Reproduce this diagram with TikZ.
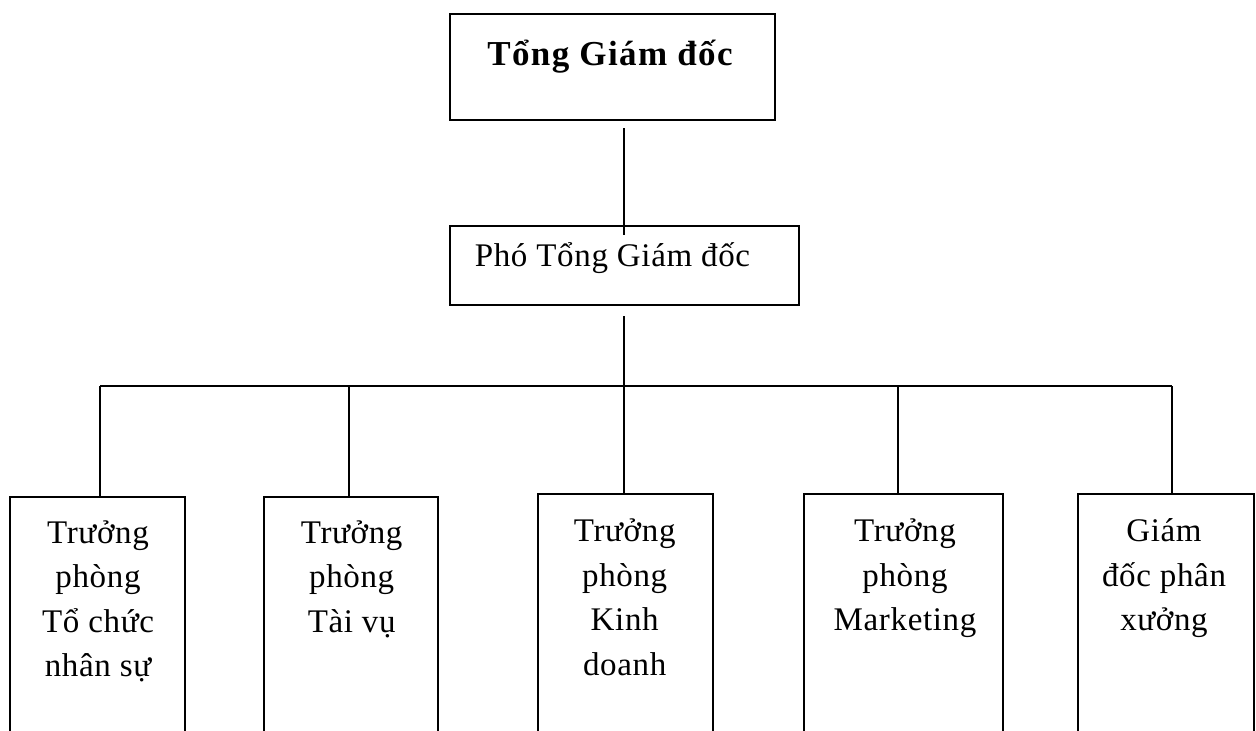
\documentclass[tikz,border=0pt]{standalone}
\usepackage{fontspec}
\setmainfont{Liberation Serif}
\newfontfamily\orgfont[LetterSpace=2]{Liberation Serif}
\newfontfamily\orgbold[LetterSpace=4]{Liberation Serif Bold}
\newcommand\lines[1]{\begin{tabular}[t]{@{}c@{}}#1\end{tabular}}
\begin{document}
\begin{tikzpicture}[x=1pt,y=-1pt,
  unit/.style={draw, line width=1.8pt, inner sep=0pt, anchor=north west},
  lbl/.style={inner sep=0pt, anchor=base, font=\orgfont\fontsize{33}{44.5}\selectfont},
  link/.style={line width=1.8pt}]
\useasboundingbox (0,0) rectangle (1256,731);
\clip (0,0) rectangle (1256,731);

% top levels
\node[unit, minimum width=325pt, minimum height=106pt] (tgd) at (449,12.7) {};
\node[inner sep=0pt, anchor=base, font=\orgbold\fontsize{35}{42}\selectfont] (tgdt) at (610,65) {Tổng Giám đốc};
\node[unit, minimum width=349pt, minimum height=79pt] (pgd) at (449,225) {};
\node[lbl] (pgdt) at (612.5,266) {Phó Tổng Giám đốc};

% departments (boxes run past the lower edge)
\node[unit, minimum width=175pt, minimum height=260pt] (b1) at (9.3,495.7) {};
\node[unit, minimum width=174.6pt, minimum height=260pt] (b2) at (262.7,495.7) {};
\node[unit, minimum width=175pt, minimum height=260pt] (b3) at (536.7,492.7) {};
\node[unit, minimum width=199pt, minimum height=260pt] (b4) at (803.3,492.7) {};
\node[unit, minimum width=176pt, minimum height=260pt] (b5) at (1077.3,492.7) {};

\node[lbl] (t1) at (98,543) {\lines{Trưởng\\phòng\\Tổ chức\\nhân sự}};
\node[lbl] (t2) at (351.7,543) {\lines{Trưởng\\phòng\\Tài vụ}};
\node[lbl] (t3) at (624.7,541.7) {\lines{Trưởng\\phòng\\Kinh\\doanh}};
\node[lbl] (t4) at (905,541.7) {\lines{Trưởng\\phòng\\Marketing}};
\node[lbl] (t5) at (1164,541.7) {\lines{Giám\\đốc phân\\xưởng}};

% connectors
\coordinate (top) at (623.7,128);
\coordinate (mid) at (623.7,316);
\coordinate (bar) at (623.7,386);
\coordinate (d1) at (100,386);
\coordinate (d2) at (349.3,386);
\coordinate (d4) at (898.3,386);
\coordinate (d5) at (1172.3,386);

\draw[link] (top) -- ([yshift=-10pt]top |- pgd.north);
\draw[link] (mid) -- (bar);
\draw[link] (d1) -- (d5);
\draw[link] (d1) -- (d1 |- b1.north);
\draw[link] (d2) -- (d2 |- b2.north);
\draw[link] (bar) -- (bar |- b3.north);
\draw[link] (d4) -- (d4 |- b4.north);
\draw[link] (d5) -- (d5 |- b5.north);
\end{tikzpicture}
\end{document}
